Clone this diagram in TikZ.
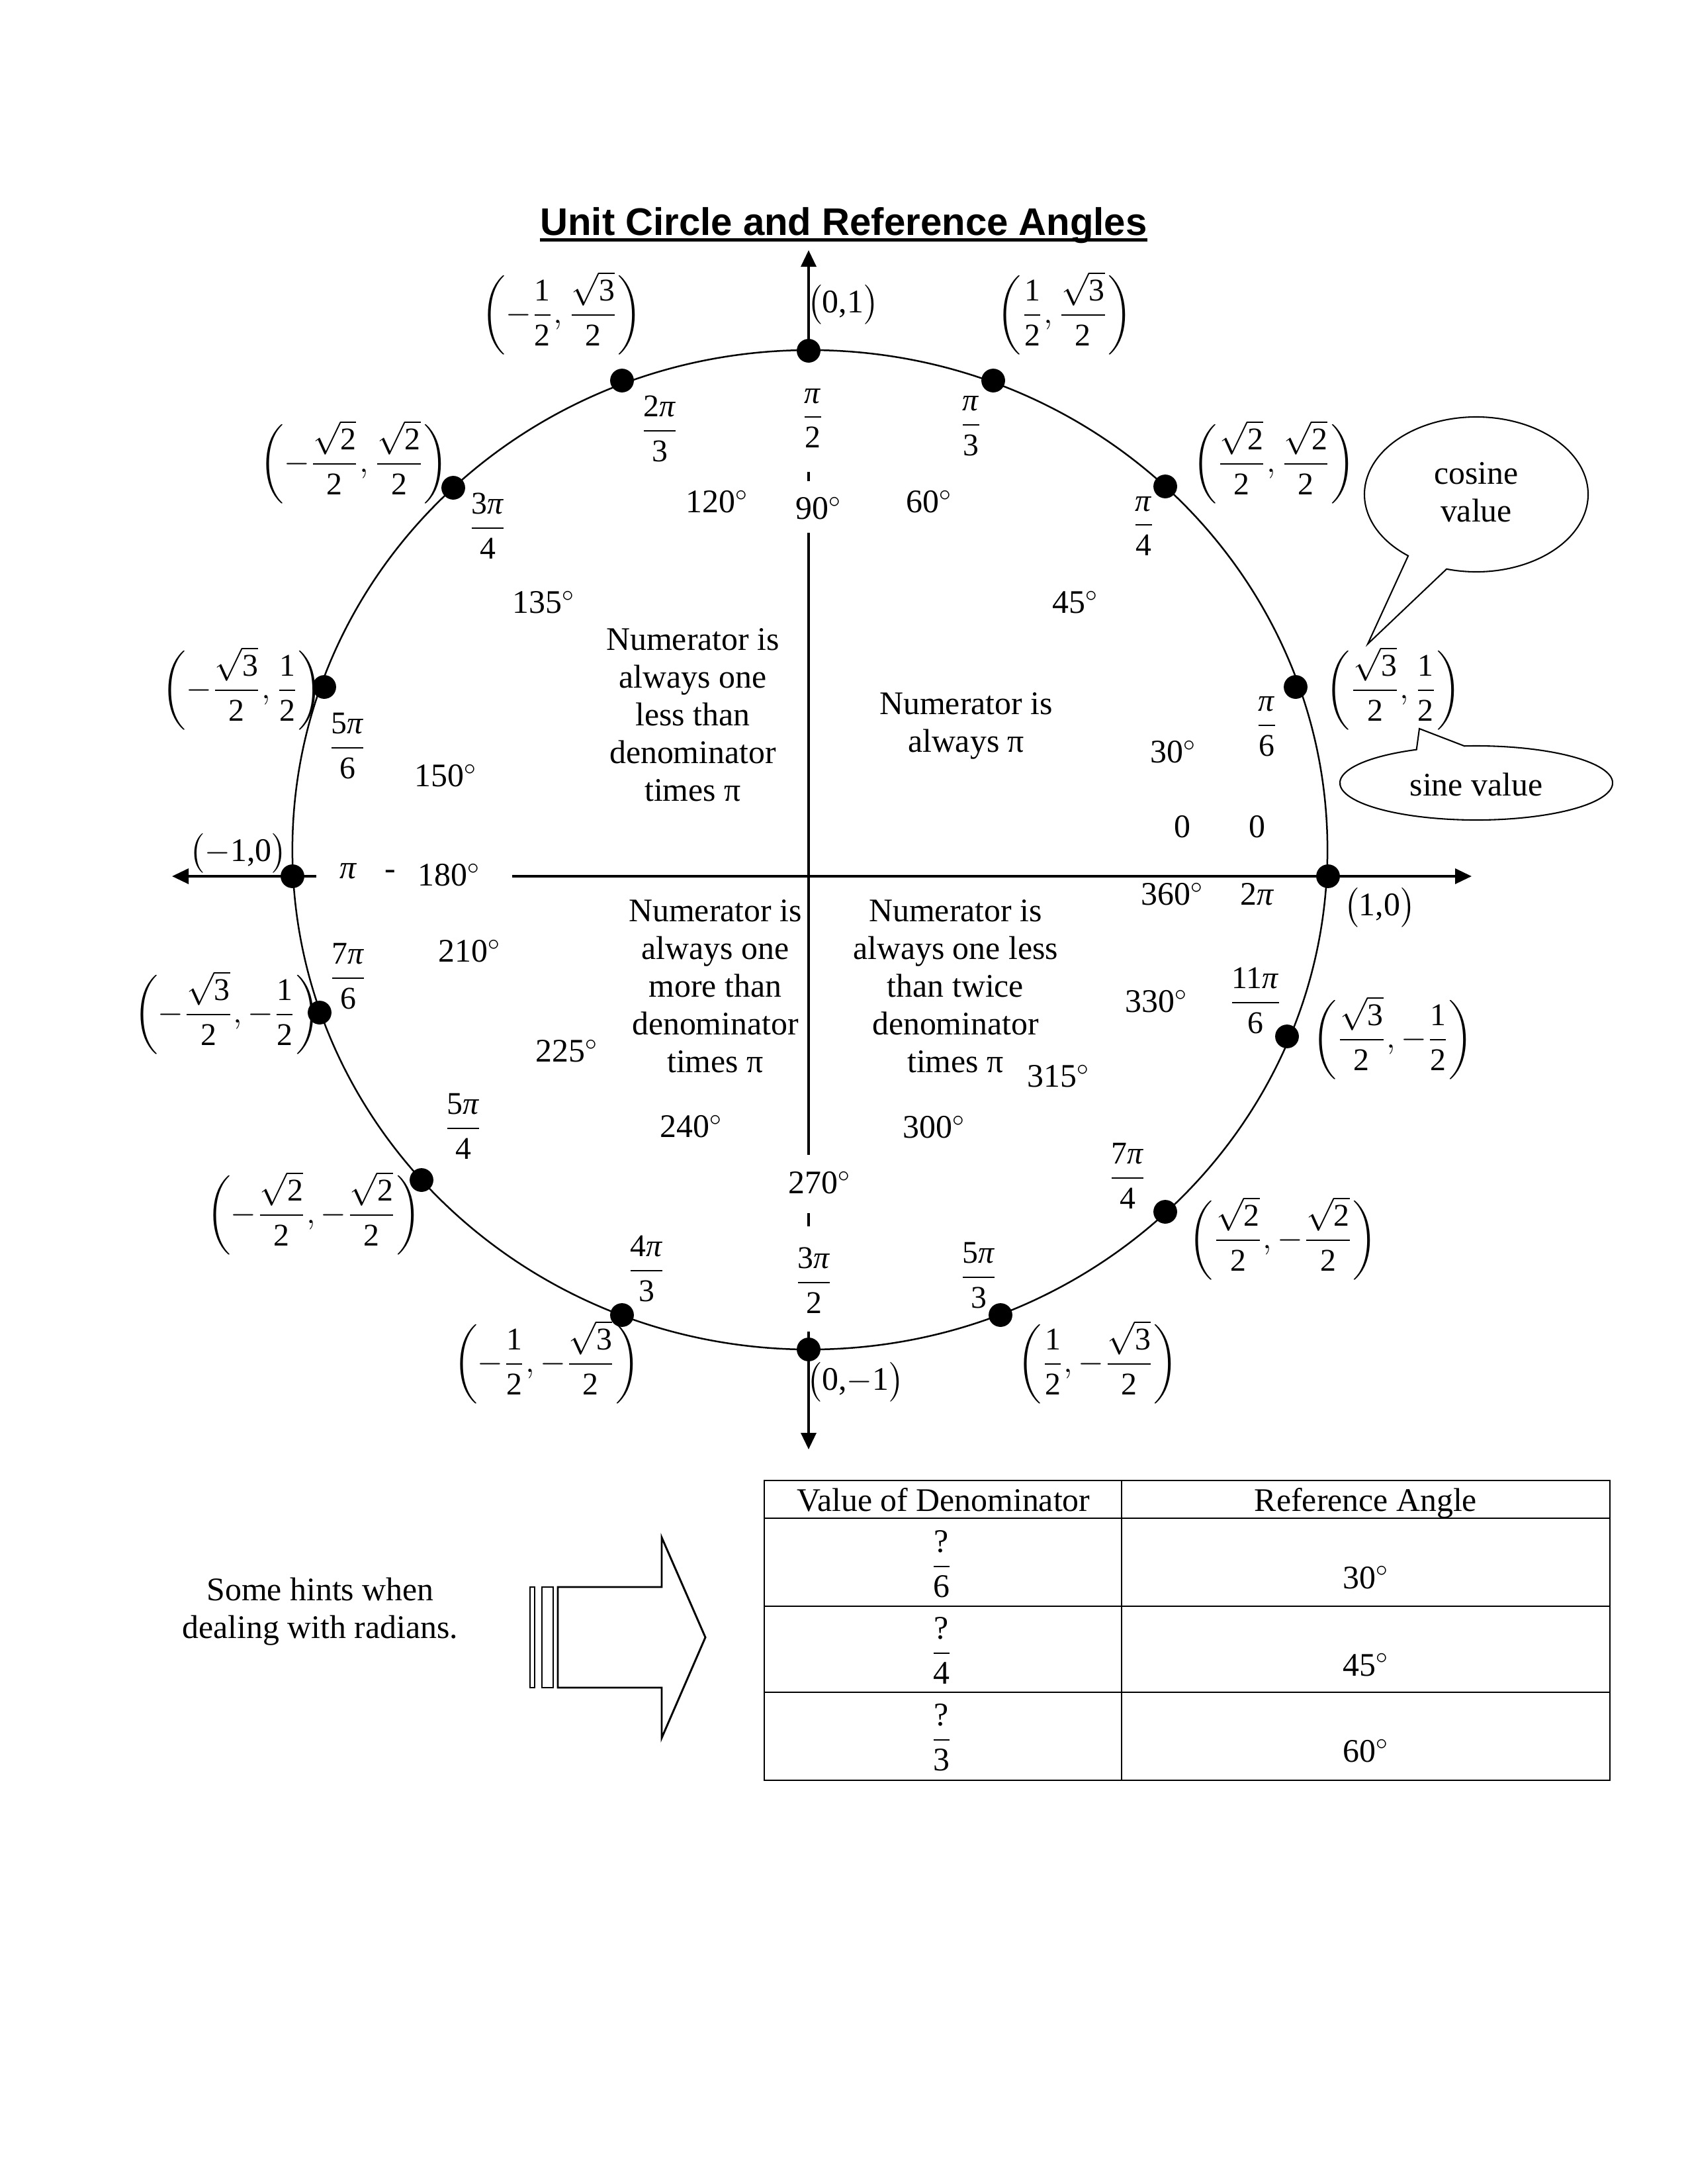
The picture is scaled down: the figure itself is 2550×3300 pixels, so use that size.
\documentclass[tikz,border=0pt]{standalone}
\usepackage{amsmath}
\usepackage{fontspec}
\setmainfont{Liberation Serif}
\newfontfamily\arialfont{Liberation Sans}
\usetikzlibrary{arrows.meta,calc}

\newcommand\ipi{\textit{π}}
\newcommand\rfr[2]{$\dfrac{\text{#1}}{\text{#2}}$}
\newcommand\hlf{\dfrac{\text{1}}{\text{2}}}
\newcommand\rtt[1]{\dfrac{\sqrt{\text{#1}}}{\text{2}}}
\newcommand\cpr[2]{$\left(#1,#2\right)$}
\newcommand\dg[1]{#1$^\circ$}

\begin{document}
\begin{tikzpicture}[x=0.24bp,y=-0.24bp,
  axis/.style={line width=0.9bp},
  tipend/.style={-{Triangle[length=6bp,width=5.5bp]}},
  dot/.style={circle,fill=black,inner sep=0pt,minimum size=8.6bp},
  lbl/.style={inner sep=0pt,font=\fontsize{12}{14}\selectfont},
  frc/.style={inner sep=0pt,font=\fontsize{11.5}{13.5}\selectfont},
  qtext/.style={inner sep=0pt,align=center,font=\fontsize{12}{13.7}\selectfont},
  thin/.style={line width=0.5bp},
]
\useasboundingbox (0,0) rectangle (2550,3300);

% title
\node[anchor=base,inner sep=0pt,font=\arialfont\bfseries\fontsize{14}{16}\selectfont] (title) at (1275,355) {Unit Circle and Reference Angles};
\draw[line width=1.2bp] ([yshift=-1.7bp]title.base west) -- ([yshift=-1.7bp]title.base east);

% circle
\draw[line width=0.6bp] (1224,1284) ellipse [x radius=187.7bp, y radius=181.2bp];

% dots
\node[dot] (p0) at (2007,1324) {};
\node[dot] (p30) at (1958,1038) {};
\node[dot] (p45) at (1761,735) {};
\node[dot] (p60) at (1501,575) {};
\node[dot] (p90) at (1222,530) {};
\node[dot] (p120) at (940,575) {};
\node[dot] (p135) at (685,737) {};
\node[dot] (p150) at (490,1038) {};
\node[dot] (p180) at (442,1324) {};
\node[dot] (p210) at (483,1530) {};
\node[dot] (p225) at (637,1783) {};
\node[dot] (p240) at (940,1987) {};
\node[dot] (p270) at (1222,2039) {};
\node[dot] (p300) at (1512,1987) {};
\node[dot] (p315) at (1761,1831) {};
\node[dot] (p330) at (1945,1566) {};

% axes
\coordinate (ytop) at (1222,378);
\coordinate (ybot) at (1222,2190);
\coordinate (xlft) at (260,1324);
\coordinate (xrgt) at (2224,1324);
\coordinate (ybotstart) at (1222,2012);
\coordinate (xlstart) at (478,1324);
\coordinate (xrstart) at (774,1324);
\draw[axis,tipend] (p90.center) -- (ytop);
\draw[axis] (1222,713) -- (1222,727);
\draw[axis] (1222,805) -- (1222,1745);
\draw[axis] (1222,1833) -- (1222,1853);
\draw[axis,tipend] (ybotstart) -- (ybot);
\draw[axis,tipend] (xlstart) -- (xlft);
\draw[axis,tipend] (xrstart) -- (xrgt);

% radian labels
\node[frc] (r90) at (1228,632) {\rfr{\ipi}{2}};
\node[frc] (r60) at (1467,644) {\rfr{\ipi}{3}};
\node[frc] (r120) at (997,648) {\rfr{2\ipi}{3}};
\node[frc] (r135) at (737,795) {\rfr{3\ipi}{4}};
\node[frc] (r45) at (1728,795) {\rfr{\ipi}{4}};
\node[frc] (r30) at (1914,1098) {\rfr{\ipi}{6}};
\node[frc] (r150) at (525,1127) {\rfr{5\ipi}{6}};
\node[frc] (r210) at (526,1475) {\rfr{7\ipi}{6}};
\node[frc] (r330) at (1897,1512) {\rfr{11\ipi}{6}};
\node[frc] (r225) at (700,1702) {\rfr{5\ipi}{4}};
\node[frc] (r315) at (1704,1777) {\rfr{7\ipi}{4}};
\node[frc] (r240) at (977,1917) {\rfr{4\ipi}{3}};
\node[frc] (r270) at (1230,1935) {\rfr{3\ipi}{2}};
\node[frc] (r300) at (1479,1927) {\rfr{5\ipi}{3}};
\node[lbl] (r0a) at (1787,1249) {0};
\node[lbl] (r0b) at (1900,1249) {0};
\node[lbl] (r360) at (1900,1351) {2\ipi};
\node[lbl] (r180) at (527,1316) {\ipi};
\node[lbl] (dash180) at (590,1322) {-};

% degree labels
\node[lbl] (d90) at (1237,768) {\dg{90}};
\node[lbl] (d120) at (1084,758) {\dg{120}};
\node[lbl] (d60) at (1404,758) {\dg{60}};
\node[lbl] (d135) at (822,910) {\dg{135}};
\node[lbl] (d45) at (1625,910) {\dg{45}};
\node[lbl] (d150) at (674,1172) {\dg{150}};
\node[lbl] (d30) at (1773,1136) {\dg{30}};
\node[lbl] (d360) at (1772,1351) {\dg{360}};
\node[lbl] (d180) at (679,1322) {\dg{180}};
\node[lbl] (d210) at (710,1437) {\dg{210}};
\node[lbl] (d330) at (1748,1513) {\dg{330}};
\node[lbl] (d225) at (857,1588) {\dg{225}};
\node[lbl] (d315) at (1600,1626) {\dg{315}};
\node[lbl] (d240) at (1045,1702) {\dg{240}};
\node[lbl] (d300) at (1412,1703) {\dg{300}};
\node[lbl] (d270) at (1239,1787) {\dg{270}};

% coordinate pairs
\node[frc] (c120) at (849,473) {\cpr{-\hlf}{\rtt{3}}};
\node[frc] (c60) at (1609,473) {\cpr{\hlf}{\rtt{3}}};
\node[frc] (c45) at (1925,698) {\cpr{\rtt{2}}{\rtt{2}}};
\node[frc] (c135) at (535,698) {\cpr{-\rtt{2}}{\rtt{2}}};
\node[frc] (c30) at (2106,1040) {\cpr{\rtt{3}}{\hlf}};
\node[frc] (c150) at (366,1040) {\cpr{-\rtt{3}}{\hlf}};
\node[frc] (c210) at (343,1530) {\cpr{-\rtt{3}}{-\hlf}};
\node[frc] (c330) at (2105,1568) {\cpr{\rtt{3}}{-\hlf}};
\node[frc] (c225) at (474,1833) {\cpr{-\rtt{2}}{-\rtt{2}}};
\node[frc] (c315) at (1939,1871) {\cpr{\rtt{2}}{-\rtt{2}}};
\node[frc] (c240) at (826,2058) {\cpr{-\hlf}{-\rtt{3}}};
\node[frc] (c300) at (1659,2058) {\cpr{\hlf}{-\rtt{3}}};
\node[lbl] (c90) at (1274,460) {$\bigl(\text{0,1}\bigr)$};
\node[lbl] (c270) at (1293,2088) {$\bigl(\text{0,}{-}\text{1}\bigr)$};
\node[lbl] (c0) at (2085,1371) {$\bigl(\text{1,0}\bigr)$};
\node[lbl] (c180) at (360,1289) {$\bigl({-}\text{1,0}\bigr)$};

% quadrant notes
\node[qtext] (q2) at (1047,1080) {Numerator is\\always one\\less than\\denominator\\times π};
\node[qtext] (q1) at (1460,1097) {Numerator is\\always π};
\node[qtext] (q3) at (1081,1490) {Numerator is\\always one\\more than\\denominator\\times π};
\node[qtext] (q4) at (1444,1490) {Numerator is\\always one less\\than twice\\denominator\\times π};

% callouts
\coordinate (cc) at (2231,747);
\coordinate (ctip) at (2067,973);
\draw[thin] ([shift={(254.6:40.56bp and 28.08bp)}]cc) arc[start angle=254.6,end angle=592.5,x radius=40.56bp,y radius=28.08bp] -- (ctip) -- cycle;
\node[qtext] (cosv) at (2231,744) {cosine\\value};
\coordinate (sc) at (2231,1183);
\coordinate (stip) at (2145,1101);
\draw[thin] ([shift={(116:49.44bp and 13.44bp)}]sc) arc[start angle=116,end angle=455,x radius=49.44bp,y radius=13.44bp] -- (stip) -- cycle;
\node[lbl] (sinv) at (2231,1185) {sine value};

% table
\draw[thin] (1155,2237) rectangle (2433,2690);
\draw[thin] (1155,2294) -- (2433,2294);
\draw[thin] (1155,2427) -- (2433,2427);
\draw[thin] (1155,2557) -- (2433,2557);
\draw[thin] (1695,2237) -- (1695,2690);
\node[lbl,anchor=base] (th1) at (1426,2283) {Value of Denominator};
\node[lbl,anchor=base] (th2) at (2064,2283) {Reference Angle};
\node[lbl] (t1a) at (1423,2363) {$\dfrac{\text{?}}{\text{6}}$};
\node[lbl] (t2a) at (1423,2494) {$\dfrac{\text{?}}{\text{4}}$};
\node[lbl] (t3a) at (1423,2625) {$\dfrac{\text{?}}{\text{3}}$};
\node[lbl,anchor=base] (t1b) at (2064,2400) {\dg{30}};
\node[lbl,anchor=base] (t2b) at (2064,2532) {\dg{45}};
\node[lbl,anchor=base] (t3b) at (2064,2662) {\dg{60}};

% hint and block arrow
\node[qtext] (hint) at (484,2435) {Some hints when\\dealing with radians.};
\draw[line width=0.7bp] (801,2398) rectangle (808,2550);
\draw[line width=0.7bp] (819,2398) rectangle (836,2550);
\draw[line width=0.7bp] (843,2398) -- (1000,2398) -- (1000,2323) -- (1066,2474) -- (1000,2626) -- (1000,2550) -- (843,2550) -- cycle;
\end{tikzpicture}
\end{document}
